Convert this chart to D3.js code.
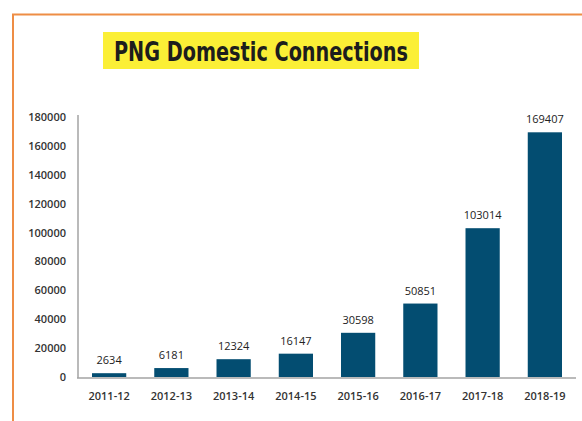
<!DOCTYPE html>
<html><head><meta charset="utf-8">
<script src="https://cdn.jsdelivr.net/npm/d3@7"></script>
<style>html,body{margin:0;padding:0;background:#fff;}svg{display:block;}</style>
</head><body>
<svg id="c" width="582" height="421"></svg>
<script>
const categories = ["2011-12","2012-13","2013-14","2014-15","2015-16","2016-17","2017-18","2018-19"];
const values = [2634, 6181, 12324, 16147, 30598, 50851, 103014, 169407];
const yTicks = [0,20000,40000,60000,80000,100000,120000,140000,160000,180000];
const title = "PNG Domestic Connections";

const svg = d3.select("#c");
// frame
svg.append("rect").attr("x",13).attr("y",14.5).attr("width",600).attr("height",430)
  .attr("fill","#fff").attr("stroke","#ee8d45").attr("stroke-width",2);

// title box
svg.append("rect").attr("x",103).attr("y",32).attr("width",316).attr("height",37).attr("fill","#fbef36");
svg.append("text").attr("x",261).attr("y",61).attr("text-anchor","middle")
  .attr("font-family","DejaVu Sans Condensed, DejaVu Sans").attr("font-weight","bold")
  .attr("font-size",26).attr("fill","#1d1d1d")
  .attr("textLength",294).attr("lengthAdjust","spacingAndGlyphs").text(title);

const x = d3.scaleBand().domain(categories).range([78,576]).paddingInner(0.45).paddingOuter(0.225);
const y = d3.scaleLinear().domain([0,180000]).range([377,117]);

const font = "Open Sans, Liberation Sans, sans-serif";

// bars
svg.selectAll("rect.bar").data(values).enter().append("rect").attr("class","bar")
  .attr("x",(d,i)=>x(categories[i])).attr("width",x.bandwidth())
  .attr("y",d=>y(d)).attr("height",d=>y(0)-y(d)).attr("fill","#034d71");

// value labels
svg.selectAll("text.val").data(values).enter().append("text").attr("class","val")
  .attr("x",(d,i)=>x(categories[i])+x.bandwidth()/2).attr("y",d=>y(d)-9)
  .attr("text-anchor","middle").attr("font-family",font).attr("font-size",11).attr("fill","#222")
  .text(d=>d);

// y axis
const ya = svg.append("g").attr("transform","translate(78,0)")
  .call(d3.axisLeft(y).tickValues(yTicks).tickSize(0).tickPadding(12).tickFormat(d3.format("d")));
ya.select(".domain").attr("stroke","#a3a3a3").attr("stroke-width",1.5).attr("d","M0,115V378");
ya.selectAll("text").attr("font-family",font).attr("font-size",11).attr("font-weight",600).attr("fill","#333");

// x axis
const xa = svg.append("g").attr("transform","translate(0,378)")
  .call(d3.axisBottom(x).tickSize(0).tickPadding(14));
xa.select(".domain").attr("stroke","#a3a3a3").attr("stroke-width",1.5).attr("d","M77,0H576");
xa.selectAll("text").attr("font-family",font).attr("font-size",11).attr("font-weight",600).attr("fill","#333");
</script>
</body></html>
